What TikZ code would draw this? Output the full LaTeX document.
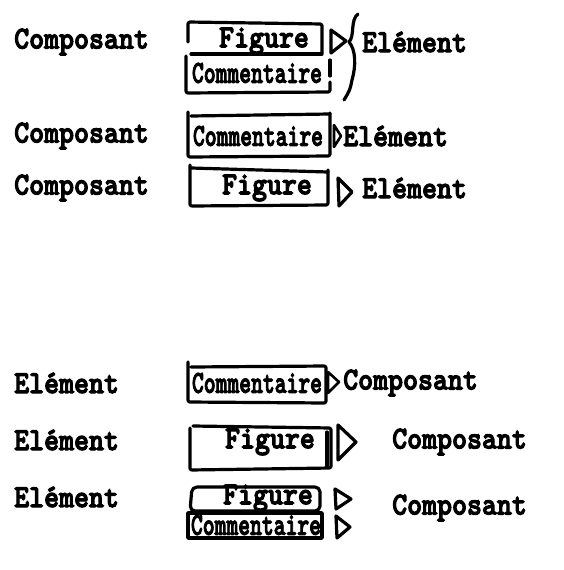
\documentclass[tikz,border=0pt]{standalone}
\usepackage{fontspec}
\usepackage{graphicx}
\newfontfamily\twfont{lmmonolt10-bold.otf}[FakeBold=3.5]
\newcommand{\tws}[1]{\scalebox{1}[1.12]{#1}}
\newcommand{\comm}{\scalebox{0.79}[1.12]{Commentaire}}
\tikzset{
  txt/.style={inner sep=0pt, font=\twfont\fontsize{28.5}{28.5}\selectfont},
  lefttxt/.style={txt, anchor=west},
  hand/.style={line width=3.2pt, line cap=round, line join=round},
  trig/.style={line width=3.2pt, line join=round},
}
\begin{document}
\begin{tikzpicture}[x=1pt,y=-1pt]
\useasboundingbox (0,0) rectangle (564,570);

% ---------- Row 1 ----------
\node[lefttxt] (c1) at (14,42) {\tws{Composant}};
\node[txt] (f1) at (264,41) {\tws{Figure}};
\node[txt] (m1) at (257,73) {\comm};
\node[lefttxt] (e1) at (362,42) {\tws{Elément}};
\draw[hand, rounded corners=2pt] (188,42) -- (188,22) -- (322,24) -- (322,53);
\draw[hand] (191,54) -- (322,54);
\draw[hand, rounded corners=2pt] (186,56) -- (186,93) -- (330,92) -- (330,82);
\draw[hand] (330,60) -- (330,76);
\draw[trig] (331,30) -- (346,41) -- (331,53) -- cycle;
\draw[hand] (358,14) .. controls (350,20) and (355,36) .. (349,42)
  .. controls (356,50) and (356,66) .. (352,80)
  .. controls (350,90) .. (344,100);

% ---------- Row 2 ----------
\node[lefttxt] (c2) at (14,136) {\tws{Composant}};
\node[txt] (m2) at (258,136) {\comm};
\node[lefttxt] (e2) at (343,136) {\tws{Elément}};
\draw[hand, rounded corners=2pt] (188,112) -- (188,157) -- (330,156) -- (330,113);
\draw[hand] (191,116) -- (330,114);
\draw[trig, line width=2.6pt] (334,125) -- (341,136) -- (334,147) -- cycle;

% ---------- Row 3 ----------
\node[lefttxt] (c3) at (14,188) {\tws{Composant}};
\node[txt] (f3) at (267,188) {\tws{Figure}};
\node[lefttxt] (e3) at (362,188) {\tws{Elément}};
\draw[hand, rounded corners=2pt] (190,165) -- (190,206) -- (328,205) -- (328,170);
\draw[hand] (191,168) -- (328,172);
\draw[trig] (338,178) -- (352,192) -- (339,206) -- cycle;

% ---------- Row 4 ----------
\node[lefttxt] (e4) at (14,383) {\tws{Elément}};
\node[txt] (m4) at (257,383) {\comm};
\node[lefttxt] (c4) at (343,383) {\tws{Composant}};
\draw[hand, rounded corners=2pt] (188,362) -- (188,402) -- (326,403) -- (326,366) -- (191,367);
\draw[trig, line width=2.6pt] (328,372) -- (339,382) -- (328,393) -- cycle;

% ---------- Row 5 ----------
\node[lefttxt] (e5) at (14,440) {\tws{Elément}};
\node[txt] (f5) at (270,442) {\tws{Figure}};
\node[lefttxt] (c5) at (392,442) {\tws{Composant}};
\draw[hand, rounded corners=2pt] (190,428) -- (190,470) -- (331,468) -- (331,428) -- (193,426);
\draw[hand] (327,432) -- (327,466);
\draw[trig] (338,425) -- (356,442) -- (338,460) -- cycle;

% ---------- Row 6 ----------
\node[lefttxt] (e6) at (14,497) {\tws{Elément}};
\node[txt] (f6) at (268,498) {\tws{Figure}};
\node[txt] (m6) at (256,525) {\comm};
\node[lefttxt] (c6) at (392,508) {\tws{Composant}};
\draw[hand, rounded corners=5pt] (192,487) -- (320,487) -- (320,511) -- (190,511) -- cycle;
\draw[hand, line width=3.6pt] (188,513) rectangle (322,538);
\draw[trig] (335,489) -- (351,499) -- (336,509) -- cycle;
\draw[trig] (336,516) -- (350,527) -- (337,538) -- cycle;
\end{tikzpicture}
\end{document}
